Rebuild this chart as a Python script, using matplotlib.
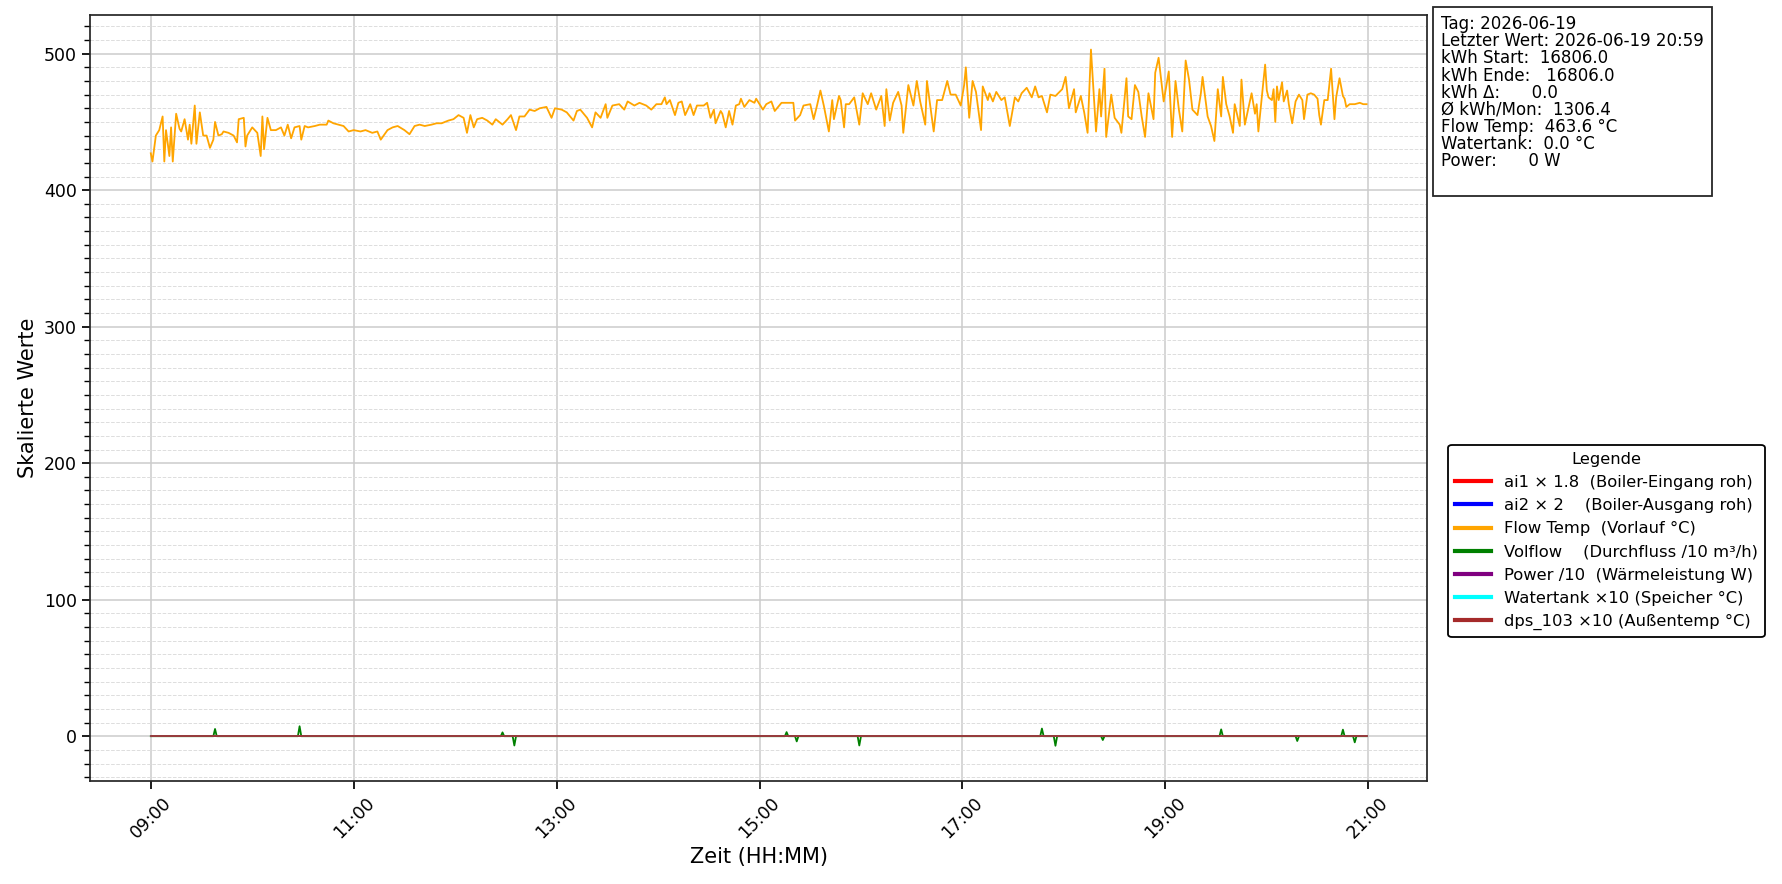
import datetime as dt
import numpy as np
import matplotlib
matplotlib.use("Agg")
import matplotlib.pyplot as plt
import matplotlib.dates as mdates
from matplotlib.ticker import MultipleLocator

day = dt.datetime(2026, 6, 19, 9, 0)
n_minutes = 720

# Flow Temp (Vorlauf): minutes after 09:00 and value
flow_min = [0, 1, 3, 5, 7, 8, 9, 11, 12, 13, 15, 17, 18, 20, 22, 23, 24, 26, 27, 29,
            31, 33, 35, 37, 38, 40, 42, 43, 46, 49, 51, 52, 55, 56, 57, 60, 63, 65, 66, 67,
            69, 71, 74, 77, 79, 81, 83, 85, 88, 89, 91, 93, 97, 100, 104, 105, 108, 111, 114, 117,
            120, 124, 127, 131, 134, 136, 140, 143, 146, 150, 153, 156, 159, 162, 166, 169, 172, 176, 179, 182,
            185, 187, 189, 191, 193, 196, 199, 202, 204, 208, 211, 213, 216, 218, 221, 224, 227, 230, 234, 237,
            239, 243, 246, 250, 252, 254, 258, 261, 263, 266, 269, 270, 273, 277, 280, 282, 286, 289, 293, 296,
            299, 302, 304, 305, 307, 310, 312, 314, 316, 319, 321, 323, 327, 329, 331, 333, 334, 337, 338, 340,
            342, 344, 346, 348, 349, 351, 354, 357, 358, 362, 364, 367, 369, 373, 376, 380, 381, 384, 386, 390,
            392, 394, 396, 398, 401, 403, 404, 407, 408, 410, 411, 413, 416, 419, 421, 424, 426, 429, 432, 434,
            435, 437, 439, 442, 444, 445, 448, 451, 453, 455, 458, 459, 463, 465, 468, 471, 473, 476, 479, 481,
            482, 484, 486, 488, 491, 492, 495, 496, 498, 500, 503, 505, 508, 511, 513, 515, 518, 521, 523, 525,
            527, 530, 532, 535, 539, 541, 543, 546, 547, 550, 552, 554, 556, 559, 561, 562, 564, 565, 568, 570,
            573, 574, 577, 578, 580, 582, 584, 586, 588, 590, 593, 594, 596, 599, 602, 604, 606, 608, 610, 612,
            614, 616, 619, 621, 622, 625, 627, 629, 631, 633, 634, 636, 638, 640, 641, 644, 645, 647, 651, 653,
            654, 655, 657, 658, 659, 660, 661, 663, 664, 665, 666, 667, 669, 670, 672, 673, 675, 677, 679, 681,
            682, 684, 686, 688, 690, 691, 692, 694, 696, 698, 700, 701, 703, 705, 706, 707, 709, 712, 715, 717,
            719]
flow_val = [427, 421, 440, 444, 454, 421, 444, 425, 446, 421, 456, 445, 443, 452, 437, 448, 434, 462, 434, 457,
            440, 440, 431, 437, 450, 440, 441, 443, 442, 440, 435, 452, 453, 432, 440, 446, 442, 425, 454, 430,
            453, 444, 444, 446, 440, 448, 438, 446, 447, 437, 447, 446, 447, 448, 448, 451, 449, 448, 447, 443,
            444, 443, 444, 442, 443, 437, 444, 446, 447, 444, 441, 447, 448, 447, 448, 449, 449, 451, 452, 455,
            453, 442, 455, 446, 452, 453, 451, 448, 452, 448, 452, 455, 444, 454, 454, 459, 458, 460, 461, 453,
            460, 459, 457, 451, 458, 459, 453, 446, 457, 453, 463, 453, 462, 463, 459, 465, 462, 464, 462, 459,
            463, 463, 468, 463, 466, 455, 464, 465, 455, 463, 455, 462, 462, 464, 453, 459, 449, 458, 456, 446,
            458, 448, 462, 463, 467, 461, 466, 464, 467, 459, 463, 465, 458, 464, 464, 464, 451, 455, 462, 463,
            452, 462, 473, 462, 443, 466, 452, 469, 466, 446, 463, 463, 468, 448, 471, 463, 471, 459, 469, 447,
            474, 451, 464, 472, 462, 442, 477, 462, 480, 465, 448, 480, 443, 466, 466, 480, 470, 470, 462, 477,
            490, 453, 480, 472, 444, 476, 466, 471, 465, 472, 466, 468, 447, 468, 465, 471, 475, 468, 476, 468,
            469, 457, 470, 469, 474, 483, 460, 474, 457, 469, 457, 442, 503, 443, 474, 454, 489, 439, 470, 453,
            448, 442, 482, 454, 452, 477, 472, 454, 439, 471, 452, 486, 497, 465, 487, 439, 480, 459, 443, 495,
            481, 459, 455, 471, 483, 454, 447, 436, 474, 454, 483, 463, 454, 442, 463, 447, 481, 448, 471, 456,
            463, 443, 468, 480, 492, 473, 468, 466, 474, 450, 476, 466, 479, 465, 473, 463, 449, 465, 470, 466,
            452, 470, 471, 470, 467, 455, 448, 466, 466, 489, 452, 468, 482, 469, 467, 461, 463, 463, 464, 463,
            463]

# Volflow /10: flat at zero except for these single-minute blips
volflow_spike_min = [38, 88, 208, 215, 376, 382, 419, 527, 535, 563, 633, 678, 705, 712]
volflow_spike_val = [5.3, 7.3, 2.8, -6.8, 3.0, -3.8, -6.8, 5.6, -7.0, -2.8, 5.0, -3.5, 4.8, -4.5]

# the remaining channels stayed at 0 all day
ai1_val = np.zeros(n_minutes)
ai2_val = np.zeros(n_minutes)
power_val = np.zeros(n_minutes)
watertank_val = np.zeros(n_minutes)
dps103_val = np.zeros(n_minutes)

info_lines = [
    "Tag: 2026-06-19",
    "Letzter Wert: 2026-06-19 20:59",
    "kWh Start:  16806.0",
    "kWh Ende:   16806.0",
    "kWh \u0394:      0.0",
    "\u00d8 kWh/Mon:  1306.4",
    "Flow Temp:  463.6 \u00b0C",
    "Watertank:  0.0 \u00b0C",
    "Power:      0 W",
    "",
]

labels = [
    "ai1 \u00d7 1.8  (Boiler-Eingang roh)",
    "ai2 \u00d7 2    (Boiler-Ausgang roh)",
    "Flow Temp  (Vorlauf \u00b0C)",
    "Volflow    (Durchfluss /10 m\u00b3/h)",
    "Power /10  (W\u00e4rmeleistung W)",
    "Watertank \u00d710 (Speicher \u00b0C)",
    "dps_103 \u00d710 (Au\u00dfentemp \u00b0C)",
]
colors = ["red", "blue", "orange", "green", "purple", "cyan", "brown"]

plt.rcParams["axes.edgecolor"] = "0.15"
plt.rcParams["axes.linewidth"] = 1.25
plt.rcParams["xtick.major.size"] = 6
plt.rcParams["ytick.major.size"] = 6
plt.rcParams["xtick.major.width"] = 1.25
plt.rcParams["ytick.major.width"] = 1.25
plt.rcParams["ytick.minor.size"] = 4
plt.rcParams["ytick.minor.width"] = 1.0

full_times = [day + dt.timedelta(minutes=i) for i in range(n_minutes)]
flow_times = [day + dt.timedelta(minutes=m) for m in flow_min]
volflow = np.zeros(n_minutes)
for m, v in zip(volflow_spike_min, volflow_spike_val):
    volflow[m] = v

fig = plt.figure(figsize=(17.82, 8.84), dpi=100)
ax = fig.add_axes([0.0505, 0.117, 0.7505, 0.8663])

lw = 1.3
ax.plot(full_times, ai1_val, color=colors[0], lw=lw, label=labels[0])
ax.plot(full_times, ai2_val, color=colors[1], lw=lw, label=labels[1])
ax.plot(flow_times, flow_val, color=colors[2], lw=lw, label=labels[2])
ax.plot(full_times, volflow, color=colors[3], lw=lw, label=labels[3])
ax.plot(full_times, power_val, color=colors[4], lw=lw, label=labels[4])
ax.plot(full_times, watertank_val, color=colors[5], lw=lw, label=labels[5])
ax.plot(full_times, dps103_val, color=colors[6], lw=lw, label=labels[6])

ax.xaxis.set_major_locator(mdates.HourLocator(byhour=range(9, 22, 2)))
ax.xaxis.set_major_formatter(mdates.DateFormatter("%H:%M"))
ax.yaxis.set_minor_locator(MultipleLocator(10))
plt.setp(ax.get_xticklabels(), rotation=45, ha="center")
ax.tick_params(labelsize=12.5)

ax.grid(True, which="major", color="#cccccc", lw=1.1)
ax.grid(True, which="minor", axis="y", color="#dddddd", ls="--", lw=0.7)
ax.set_axisbelow(True)

ax.set_xlabel("Zeit (HH:MM)", fontsize=15)
ax.set_ylabel("Skalierte Werte", fontsize=15)

leg = fig.legend(loc="upper left", bbox_to_anchor=(0.8128, 0.4965), borderaxespad=0,
                 title="Legende", fontsize=11.8, title_fontsize=11.8, handlelength=2.2,
                 labelspacing=0.5, edgecolor="black", framealpha=1)
leg.get_frame().set_linewidth(1.3)
for line in leg.get_lines():
    line.set_linewidth(3)

fig.text(0.8088, 0.983, "\n".join(info_lines), ha="left", va="top", fontsize=12,
         linespacing=0.94,
         bbox=dict(boxstyle="square,pad=0.5", facecolor="white", edgecolor="0.15", linewidth=1.3))

fig.savefig("out.png", dpi=100)
